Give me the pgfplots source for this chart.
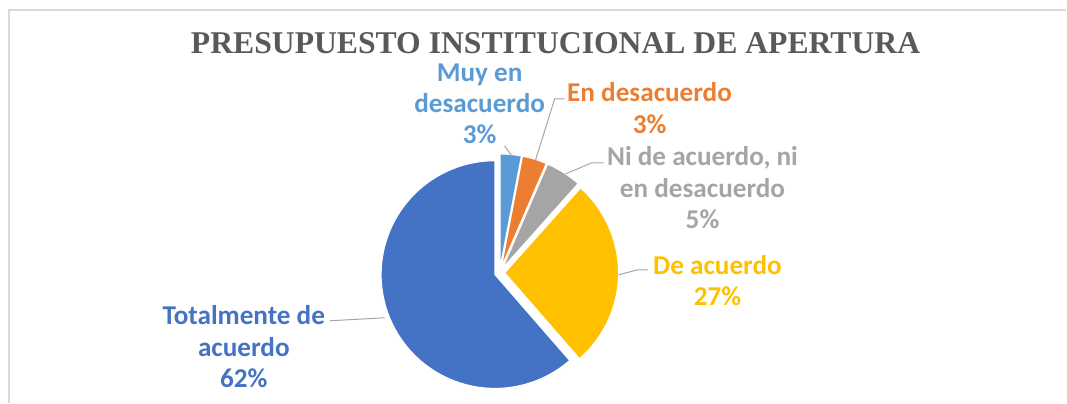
\documentclass[border=0pt]{standalone}
\usepackage{pgfplots}
\pgfplotsset{compat=1.18}
\usepackage{fontspec}
\setmainfont{Carlito}
\newfontfamily\titlefont{Liberation Serif}
\definecolor{cMuy}{HTML}{5B9BD5}
\definecolor{cEn}{HTML}{ED7D31}
\definecolor{cNi}{HTML}{A5A5A5}
\definecolor{cDe}{HTML}{FFC000}
\definecolor{cTot}{HTML}{4472C4}
\definecolor{cTitle}{HTML}{595959}
\definecolor{cLead}{HTML}{A6A6A6}
\definecolor{cFrame}{HTML}{D9D9D9}
% slice: start % , end % , colour  (pie centre 500,273; radius 114; explode 5)
\newcommand{\slice}[3]{%
  \addplot[fill=#3, draw=white, line width=1.2bp, domain=#1:#2, samples=80]
    ({500 + 5*sin(1.8*(#1+#2)) + 114*sin(3.6*x)},
     {273 - 5*cos(1.8*(#1+#2)) - 114*cos(3.6*x)})
    -- (axis cs:{500 + 5*sin(1.8*(#1+#2))},{273 - 5*cos(1.8*(#1+#2))}) -- cycle;
}
\begin{document}
\begin{tikzpicture}
\begin{axis}[at={(0,0)}, anchor=south west, scale only axis,
  width=1067bp, height=403bp, xmin=0, xmax=1067, ymin=0, ymax=403,
  y dir=reverse, hide axis, clip=false]
\path (axis cs:0,0) rectangle (axis cs:1067,403);
\draw[cFrame, line width=1.5bp] (axis cs:9,403) -- (axis cs:9,10) -- (axis cs:1067,10);
% values (%): Muy en desacuerdo 3.0, En desacuerdo 3.5, Ni de acuerdo ni en desacuerdo 5.1, De acuerdo 27.0, Totalmente de acuerdo 61.4
\slice{0}{3.0}{cMuy}
\slice{3.0}{6.5}{cEn}
\slice{6.5}{11.6}{cNi}
\slice{11.6}{38.6}{cDe}
\slice{38.6}{100}{cTot}
% leader lines
\draw[cLead, line width=1bp] (axis cs:512,156) -- (axis cs:505,146);
\draw[cLead, line width=1bp] (axis cs:536,160) -- (axis cs:555,99) -- (axis cs:565,99);
\draw[cLead, line width=1bp] (axis cs:566,174) -- (axis cs:592,163) -- (axis cs:604,163);
\draw[cLead, line width=1bp] (axis cs:619,275) -- (axis cs:638,270) -- (axis cs:648,270);
\draw[cLead, line width=1bp] (axis cs:330,321) -- (axis cs:385,318);
% title
\node[font=\titlefont\bfseries\fontsize{31.8}{32}\selectfont, text=cTitle, anchor=base]
  at (axis cs:556,54) {PRESUPUESTO INSTITUCIONAL DE APERTURA};
% labels
\tikzset{lab/.style={font=\bfseries\fontsize{27.3}{31.5}\selectfont, align=center, inner sep=0pt}}
\node[lab, text=cMuy] at (axis cs:480,104) {Muy en\\desacuerdo\\3\%};
\node[lab, text=cEn] at (axis cs:650,108) {En desacuerdo\\3\%};
\node[lab, text=cNi] at (axis cs:703,188) {Ni de acuerdo, ni\\en desacuerdo\\5\%};
\node[lab, text=cDe] at (axis cs:718,281) {De acuerdo\\27\%};
\node[lab, text=cTot] at (axis cs:244,347) {Totalmente de\\acuerdo\\62\%};
\end{axis}
\end{tikzpicture}
\end{document}
